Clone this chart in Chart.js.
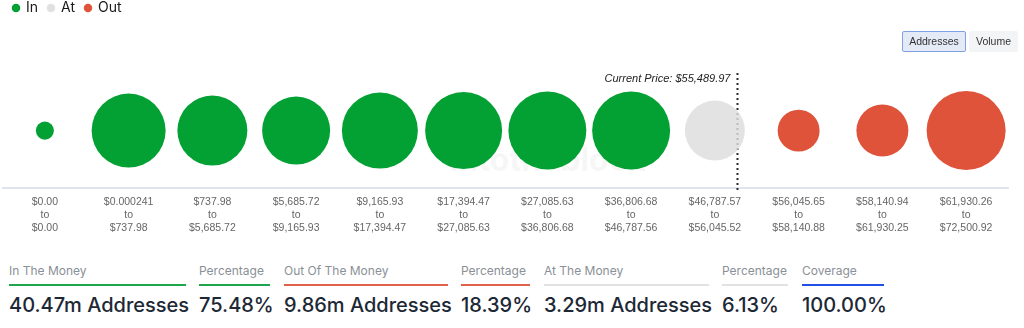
<!DOCTYPE html>
<html lang="en">
<head>
<meta charset="UTF-8">
<title>In/Out of the Money</title>
<script src="https://cdn.jsdelivr.net/npm/chart.js"></script>
<style>
  body { margin: 0; width: 1024px; height: 328px; overflow: hidden; background: #fff; font-family: Inter, "Noto Sans", sans-serif; position: relative; }
  #chart-wrap { position: absolute; left: 0; top: -9px; width: 1024px; height: 253px; }
  .btns { position: absolute; top: 31px; left: 902px; display: flex; gap: 3px; }
  .btn { height: 21px; line-height: 21px; font-size: 10.5px; font-family: "Liberation Sans", Arial, sans-serif; color: #333; border-radius: 2px; box-sizing: border-box; background: #f3f4f6; text-align: center; width: 49px; }
  .btn.on { background: #e4ebf7; border: 1px solid #7fa2e4; line-height: 19px; width: 64px; }
  .stats { position: absolute; top: 262px; left: 0; }
  .stat { position: absolute; top: 0; }
  .stat .lbl { font-size: 12px; color: #8a9097; line-height: 18px; white-space: nowrap; }
  .stat .bar { height: 2px; margin-top: 4px; }
  .stat .val { font-size: 20px; font-weight: 500; color: #1d2835; margin-top: 7px; white-space: nowrap; }
</style>
</head>
<body>
<div id="chart-wrap"><canvas id="iom"></canvas></div>
<div class="btns"><div class="btn on">Addresses</div><div class="btn">Volume</div></div>
<div class="stats" id="stats"></div>

<script>
// price buckets
const rangeFrom = ['$0.00', '$0.000241', '$737.98', '$5,685.72', '$9,165.93', '$17,394.47',
  '$27,085.63', '$36,806.68', '$46,787.57', '$56,045.65', '$58,140.94', '$61,930.26'];
const rangeTo = ['$0.00', '$737.98', '$5,685.72', '$9,165.93', '$17,394.47', '$27,085.63',
  '$36,806.68', '$46,787.56', '$56,045.52', '$58,140.88', '$61,930.25', '$72,500.92'];
// addresses per bucket, millions
const addressesM = [0.30, 5.01, 4.48, 4.23, 5.28, 5.42, 5.56, 5.56, 3.29, 1.61, 2.47, 5.71];
const bucketStatus = ['In', 'In', 'In', 'In', 'In', 'In', 'In', 'In', 'At', 'Out', 'Out', 'Out'];

const currentPrice = '$55,489.97';
const currentPriceIndex = 8.27;

const statLabels = ['In The Money', 'Percentage', 'Out Of The Money', 'Percentage', 'At The Money', 'Percentage', 'Coverage'];
const statValues = ['40.47m Addresses', '75.48%', '9.86m Addresses', '18.39%', '3.29m Addresses', '6.13%', '100.00%'];

const colors = { In: '#03a033', At: 'rgba(221,221,221,0.82)', Out: '#de533a' };
const legendColors = { In: '#03a033', At: '#e1e1e1', Out: '#de533a' };
const statBars = ['#1ea64c', '#1ea64c', '#e0604a', '#e0604a', '#e2e2e2', '#e2e2e2', '#2150e6'];
const statLeft = [9, 199, 284, 461, 544, 722, 802];
const statWidth = [177, 71, 164, 69, 165, 66, 82];

const maxR = 39.5;
const maxAddr = Math.max(...addressesM);

function buildDataset(name) {
  const pts = [];
  addressesM.forEach((v, i) => {
    if (bucketStatus[i] === name) pts.push({ x: i, y: 0, r: maxR * Math.sqrt(v / maxAddr) });
  });
  return {
    label: name,
    data: pts,
    backgroundColor: colors[name],
    borderWidth: 0,
    pointStyle: 'circle'
  };
}

// extra room under the legend
const legendSpacer = {
  id: 'legendSpacer',
  beforeInit(chart) {
    const fit = chart.legend.fit;
    chart.legend.fit = function () {
      fit.bind(chart.legend)();
      this.height += 48;
    };
  }
};

const priceMarker = {
  id: 'priceMarker',
  beforeDatasetsDraw(chart) {
    const { ctx, chartArea, scales } = chart;
    const x = scales.x.getPixelForValue(currentPriceIndex);
    ctx.save();
    // watermark
    ctx.font = 'bold 32px Inter, sans-serif';
    ctx.fillStyle = 'rgba(0,0,0,0.035)';
    ctx.textAlign = 'center';
    ctx.textBaseline = 'middle';
    ctx.fillText('intotheblock', 548, chartArea.top + 88);
    // dotted line
    ctx.strokeStyle = '#2a2a2a';
    ctx.lineWidth = 2;
    ctx.setLineDash([2, 3]);
    ctx.beginPath();
    ctx.moveTo(x, chartArea.top);
    ctx.lineTo(x, chartArea.bottom + 2);
    ctx.stroke();
    ctx.setLineDash([]);
    ctx.font = 'italic 11px "Liberation Sans", Arial, sans-serif';
    ctx.fillStyle = '#222';
    ctx.textAlign = 'right';
    ctx.fillText('Current Price: ' + currentPrice, x - 7, chartArea.top + 6);
    ctx.restore();
  }
};

const chart = new Chart(document.getElementById('iom'), {
  type: 'bubble',
  data: { datasets: ['In', 'At', 'Out'].map(buildDataset) },
  options: {
    responsive: true,
    maintainAspectRatio: false,
    animation: false,
    events: [],
    layout: { autoPadding: false, padding: { left: 3, right: 16, top: 0, bottom: 2 } },
    plugins: {
      tooltip: { enabled: false },
      legend: {
        position: 'top',
        align: 'start',
        labels: {
          usePointStyle: true,
          boxWidth: 6,
          boxHeight: 6,
          padding: 10,
          color: '#1a1a1a',
          font: { size: 14, family: 'Inter, sans-serif' },
          generateLabels(c) {
            return c.data.datasets.map((ds, i) => ({
              text: ds.label,
              fillStyle: legendColors[ds.label],
              strokeStyle: legendColors[ds.label],
              lineWidth: 0,
              pointStyle: 'circle',
              datasetIndex: i,
              fontColor: '#1a1a1a'
            }));
          }
        }
      }
    },
    scales: {
      x: {
        type: 'linear',
        min: -0.5,
        max: 11.5,
        afterBuildTicks(scale) {
          scale.ticks = rangeFrom.map((_, i) => ({ value: i }));
        },
        afterFit(scale) {
          // labels sit half a bucket in, no edge padding needed
          scale.paddingLeft = 0;
          scale.paddingRight = 0;
        },
        grid: { display: false, drawTicks: false },
        border: { display: true, color: '#dfe5ee', width: 2 },
        ticks: {
          autoSkip: false,
          maxRotation: 0,
          padding: 8,
          color: '#666',
          font: { size: 10.5, family: '"Liberation Sans", Arial, sans-serif', lineHeight: 1.2 },
          callback: (v) => [rangeFrom[v], 'to', rangeTo[v]]
        }
      },
      y: { display: false, min: -1, max: 1 }
    }
  },
  plugins: [legendSpacer, priceMarker]
});

// summary row
const stats = document.getElementById('stats');
statLabels.forEach((lbl, i) => {
  const d = document.createElement('div');
  d.className = 'stat';
  d.style.left = statLeft[i] + 'px';
  d.style.width = statWidth[i] + 'px';
  d.innerHTML = '<div class="lbl">' + lbl + '</div><div class="bar" style="background:' + statBars[i] +
    '"></div><div class="val">' + statValues[i] + '</div>';
  stats.appendChild(d);
});
</script>
</body>
</html>
